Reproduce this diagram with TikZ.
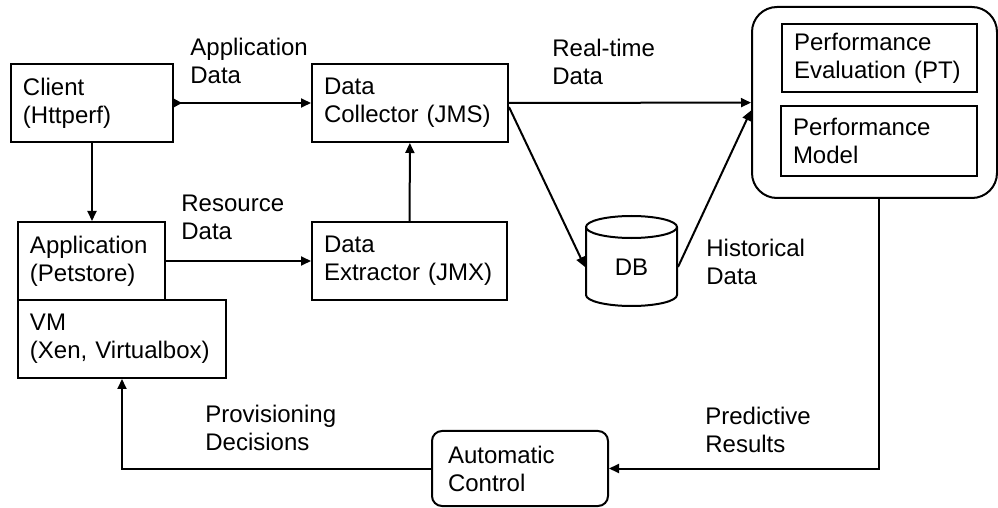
\documentclass[tikz,border=0pt]{standalone}
\usepackage{fontspec}
\setmainfont{Liberation Sans}
\usetikzlibrary{shapes}
\usetikzlibrary{positioning}
\usetikzlibrary{arrows.meta}
\tikzset{
    mybox/.style = {rectangle, draw=black, line width=1pt, align=left, inner xsep=6pt, inner ysep=0pt, minimum height=39pt, text width=#1},
    myrbox/.style = {mybox=#1, rounded corners=5pt, inner xsep=8pt},
    mydb/.style = {cylinder, shape border rotate=90, draw=black, line width=1pt, aspect=0.66, minimum width=45.5pt, minimum height=45pt, inner sep=0pt},
    mylabel/.style = {anchor=west, align=left, inner sep=0pt},
    edgen/.style = {-{Triangle[length=5pt,width=4.5pt]}, line width=1pt},
    edges/.style = {{Triangle[reversed,length=4pt,width=4pt]}-{Triangle[length=5pt,width=4.5pt]}, line width=1pt}
}

\begin{document}
\begin{tikzpicture}[x=0.5pt, y=-0.5pt, font=\fontsize{12}{14}\selectfont]
\useasboundingbox (0,0) rectangle (998,508);
% boxes
\node[mybox=69pt] at (92,103) (client) {Client\\(Httperf)};
\node[mybox=86pt] at (410,103) (coll) {Data\\Collector (JMS)};
\node[mybox=61.5pt] at (91.5,261) (app) {Application\\(Petstore)};
\node[mybox=92pt] at (122,339) (vm) {VM\\(Xen, Virtualbox)};
\node[mybox=85.5pt] at (409.5,261) (extr) {Data\\Extractor (JMX)};
\node[mydb] at (631.5,267) (db) {DB};
\node[rectangle, draw=black, line width=1pt, rounded corners=12.5pt, minimum width=122.5pt, minimum height=95.5pt] at (874.5,102.5) (pt) {};
\node[mybox=85.5pt, minimum height=34pt] at (879.5,58) (eval) {Performance\\Evaluation (PT)};
\node[mybox=86pt, minimum height=35pt] at (879,141) (model) {Performance\\Model};
\node[myrbox=72pt, minimum height=37.5pt] at (520,468.5) (ctrl) {Automatic\\Control};
% labels
\node[mylabel] at (190,61) (lappd) {Application\\Data};
\node[mylabel] at (552,62) (lrt) {Real-time\\Data};
\node[mylabel] at (181,217) (lres) {Resource\\Data};
\node[mylabel] at (706,262) (lhist) {Historical\\Data};
\node[mylabel] at (205,428) (lprov) {Provisioning\\Decisions};
\node[mylabel] at (705,430) (lpred) {Predictive\\Results};
%
\draw[edges] (client) -- (coll);
\draw[edgen] (client.south) -- (client.south |- app.north);
\draw[edgen] (app) -- (extr);
\draw[edgen] (extr) -- (coll);
\draw[edgen] (coll) -- (pt);
\draw[edgen] ([yshift=-2pt]coll.east) -- (db.west);
\draw[edgen] (db.east) -- ([yshift=-4pt]pt.west);
\coordinate (turn) at (879,469);
\draw[edgen] (pt.south -| turn) |- (ctrl.east);
\draw[edgen] (ctrl.west) -| (vm.south);
\end{tikzpicture}
\end{document}
